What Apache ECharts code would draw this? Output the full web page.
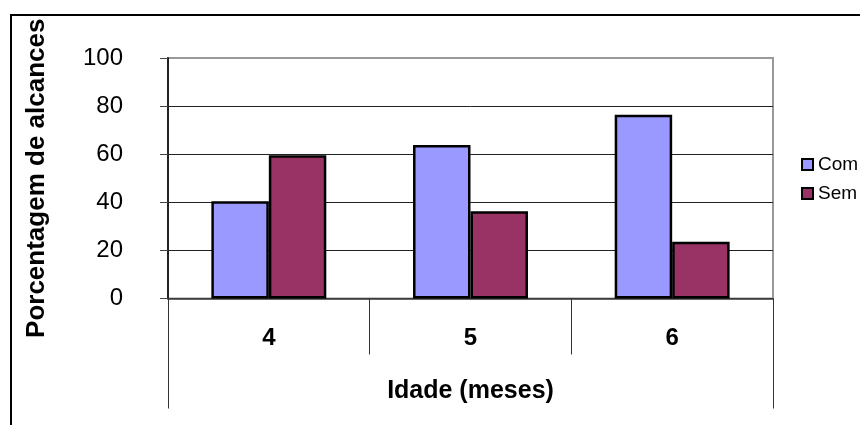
<!DOCTYPE html>
<html>
<head>
<meta charset="utf-8">
<script src="https://cdn.jsdelivr.net/npm/echarts@6/dist/echarts.min.js"></script>
<style>html,body{margin:0;padding:0;background:#fff}#c{width:860px;height:425px}</style>
</head>
<body>
<div id="c"></div>
<script>
const categories = ['4', '5', '6'];
const groupLabel = ['Idade (meses)'];
const seriesNames = ['Com', 'Sem'];
const comValues = [40.4, 63.8, 76.4];
const semValues = [59.6, 36.3, 23.6];
const yTitle = 'Porcentagem de alcances';

const FONT = '"Liberation Sans", Arial, sans-serif';
const chart = echarts.init(document.getElementById('c'), null, {renderer: 'canvas'});
chart.setOption({
  animation: false,
  backgroundColor: '#fff',
  textStyle: {fontFamily: FONT},
  graphic: [{
    type: 'rect', z: -10, silent: true,
    shape: {x: 11, y: 15, width: 900, height: 500},
    style: {fill: 'none', stroke: '#000', lineWidth: 2}
  }],
  grid: {
    left: 168, right: 87, top: 58, bottom: 126.5,
    show: true, borderColor: '#999', borderWidth: 2, backgroundColor: '#fff'
  },
  legend: {
    orient: 'vertical', left: 796, top: 150,
    icon: 'rect', itemWidth: 11, itemHeight: 11, itemGap: 10,
    textStyle: {fontFamily: FONT, fontSize: 19, color: '#000', lineHeight: 19},
    data: seriesNames
  },
  xAxis: [{
    type: 'category', data: categories, position: 'bottom',
    axisLine: {show: true, onZero: false, lineStyle: {color: '#444', width: 1.5}},
    axisTick: {show: true, interval: 0, length: 56, lineStyle: {color: '#333', width: 1}},
    axisLabel: {margin: 28, fontSize: 24, fontWeight: 'bold', color: '#000', fontFamily: FONT}
  }, {
    type: 'category', data: groupLabel, position: 'bottom',
    axisLine: {show: false},
    axisTick: {show: true, interval: 0, length: 110, lineStyle: {color: '#333', width: 1}},
    axisLabel: {margin: 80, fontSize: 25, fontWeight: 'bold', color: '#000', fontFamily: FONT}
  }],
  yAxis: {
    type: 'value', min: 0, max: 100, interval: 20,
    name: yTitle, nameLocation: 'middle', nameGap: 118,
    nameTextStyle: {fontSize: 26, fontWeight: 'bold', color: '#000', fontFamily: FONT},
    axisLine: {show: true, lineStyle: {color: '#222', width: 2}},
    axisTick: {show: true, length: 8, lineStyle: {color: '#444', width: 1}},
    axisLabel: {margin: 45, fontSize: 24, color: '#000', fontFamily: FONT},
    splitLine: {show: true, showMaxLine: false, lineStyle: {color: '#222', width: 1}}
  },
  series: [{
    name: seriesNames[0], type: 'bar', data: comValues, xAxisIndex: 0,
    barGap: '0%', barCategoryGap: '43%',
    itemStyle: {color: '#9999FF', borderColor: '#000', borderWidth: 2.5}
  }, {
    name: seriesNames[1], type: 'bar', data: semValues, xAxisIndex: 0,
    barGap: '0%', barCategoryGap: '43%',
    itemStyle: {color: '#993366', borderColor: '#000', borderWidth: 2.5}
  }]
});
</script>
</body>
</html>
